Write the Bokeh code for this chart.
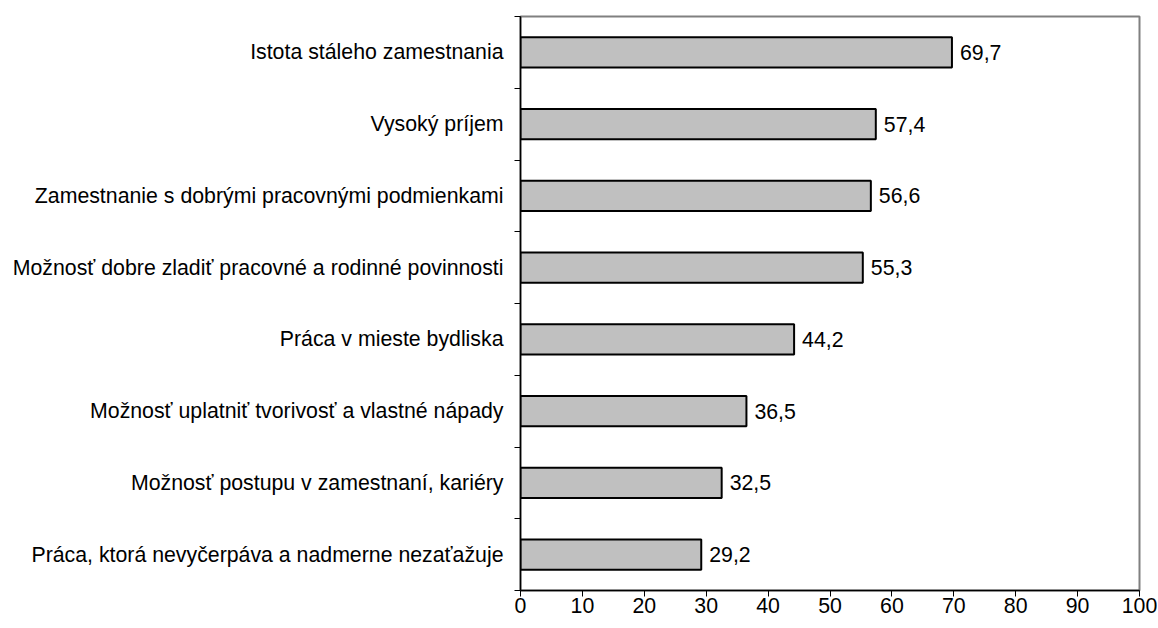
from bokeh.plotting import figure
from bokeh.models import ColumnDataSource, Range1d, FixedTicker, LinearAxis
from bokeh.core.properties import value
from bokeh.embed import file_html
from bokeh.resources import INLINE

categories = [
    "Istota stáleho zamestnania",
    "Vysoký príjem",
    "Zamestnanie s dobrými pracovnými podmienkami",
    "Možnosť dobre zladiť pracovné a rodinné povinnosti",
    "Práca v mieste bydliska",
    "Možnosť uplatniť tvorivosť a vlastné nápady",
    "Možnosť postupu v zamestnaní, kariéry",
    "Práca, ktorá nevyčerpáva a nadmerne nezaťažuje",
]
values = [69.7, 57.4, 56.6, 55.3, 44.2, 36.5, 32.5, 29.2]
x_ticks = [0, 10, 20, 30, 40, 50, 60, 70, 80, 90, 100]

n = len(categories)
ypos = [n - i for i in range(n)]
labels = [f"{v:.1f}".replace(".", ",") for v in values]

src = ColumnDataSource(dict(y=ypos, v=values, lab=labels, cat=categories))

FONT = "Liberation Sans"
FS = "21.3px"

p = figure(width=1157, height=626, output_backend="svg", toolbar_location=None,
           x_range=Range1d(0, 100), y_range=Range1d(0.5, n + 0.5),
           min_border_left=520, min_border_right=18, min_border_top=16,
           min_border_bottom=36, x_axis_location=None, y_axis_location=None)
p.xgrid.visible = False
p.ygrid.visible = False
p.outline_line_color = "#808080"
p.outline_line_width = 2
p.background_fill_color = "white"
p.border_fill_color = "white"

p.hbar(y="y", right="v", left=0, height=0.42, source=src,
       fill_color="#C0C0C0", line_color="black", line_width=2)
p.text(x="v", y="y", text="lab", source=src, x_offset=8,
       text_font=value(FONT), text_font_size=FS, text_color="black",
       text_align="left", text_baseline="middle")

xaxis = LinearAxis(ticker=FixedTicker(ticks=x_ticks, minor_ticks=[]))
xaxis.axis_line_color = "black"
xaxis.axis_line_width = 1.5
xaxis.major_tick_in = 0
xaxis.major_tick_out = 6
xaxis.major_tick_line_color = "black"
xaxis.major_label_standoff = 1
xaxis.major_label_text_font = FONT
xaxis.major_label_text_font_size = FS
xaxis.major_label_text_color = "black"
p.add_layout(xaxis, "below")

yaxis = LinearAxis(ticker=FixedTicker(ticks=ypos,
                                      minor_ticks=[k + 0.5 for k in range(n + 1)]))
yaxis.major_label_overrides = {y: c for y, c in zip(ypos, categories)}
yaxis.axis_line_color = "black"
yaxis.axis_line_width = 1.5
yaxis.major_tick_line_color = None
yaxis.major_tick_in = 0
yaxis.major_tick_out = 0
yaxis.minor_tick_line_color = "black"
yaxis.minor_tick_in = 0
yaxis.minor_tick_out = 6
yaxis.major_label_standoff = 11
yaxis.major_label_text_font = FONT
yaxis.major_label_text_font_size = FS
yaxis.major_label_text_color = "black"
p.add_layout(yaxis, "left")

open("out.html", "w").write(file_html(p, INLINE))
